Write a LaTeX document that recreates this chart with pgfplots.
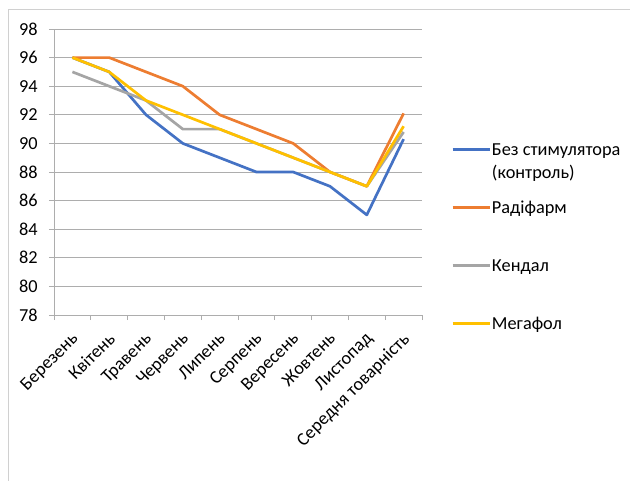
\documentclass[border=0pt]{standalone}
\usepackage{pgfplots}
\pgfplotsset{compat=1.18}
\usepackage{fontspec}
\setmainfont{Carlito}
\definecolor{cblue}{HTML}{4472C4}
\definecolor{corange}{HTML}{ED7D31}
\definecolor{cgray}{HTML}{A5A5A5}
\definecolor{cyellow}{HTML}{FFC000}
\definecolor{gridc}{HTML}{ADADAD}
\definecolor{framec}{HTML}{D0D0D0}
\begin{document}
\fontsize{18.3bp}{22.5bp}\selectfont
\begin{tikzpicture}
\useasboundingbox (-54bp,-166bp) rectangle (576bp,315bp);
\draw[framec, line width=1bp] (-45bp,-200bp) -- (-45bp,305bp) -- (640bp,305bp);
\begin{axis}[
  at={(0,0)}, anchor=south west,
  scale only axis, width=368bp, height=286bp,
  xmin=-0.5, xmax=9.5, ymin=78, ymax=98,
  ytick={78,80,...,98},
  xtick={0,...,9},
  xticklabels={Березень,Квітень,Травень,Червень,Липень,Серпень,Вересень,Жовтень,Листопад,Середня товарність},
  minor xtick={-0.5,0.5,...,9.5},
  axis x line*=bottom, axis y line*=left,
  axis line style={gridc, line width=0.9bp},
  ymajorgrids, grid style={gridc, line width=0.9bp},
  tick align=outside, major tick length=5bp, minor tick length=5bp,
  every tick/.style={gridc, line width=0.9bp},
  major x tick style={draw=none},
  /pgf/number format/assume math mode=true,
  yticklabel style={xshift=-5bp},
  xticklabel style={yshift=-11bp, xshift=-2bp, rotate=45, anchor=north east, inner sep=0pt},
  legend cell align=left,
  legend style={at={(axis description cs:1.079,0.616)}, anchor=north west,
    draw=none, fill=none, inner sep=0pt, row sep=37.5bp, column sep=0bp,
    nodes={inner sep=1bp}},
  legend image code/.code={\draw[#1] (0bp,0bp) -- (37bp,0bp);},
  every axis plot/.append style={line width=2.7bp, line join=round},
]
\addplot[cblue] coordinates {(0,96) (1,95) (2,92) (3,90) (4,89) (5,88) (6,88) (7,87) (8,85) (9,90.3)};
\addplot[corange] coordinates {(0,96) (1,96) (2,95) (3,94) (4,92) (5,91) (6,90) (7,88) (8,87) (9,92.1)};
\addplot[cgray] coordinates {(0,95) (1,94) (2,93) (3,91) (4,91) (5,90) (6,89) (7,88) (8,87) (9,90.8)};
\addplot[cyellow] coordinates {(0,96) (1,95) (2,93) (3,92) (4,91) (5,90) (6,89) (7,88) (8,87) (9,91.2)};
\legend{\strut\smash{\begin{tabular}[t]{@{}l@{}}Без стимулятора\\(контроль)\end{tabular}},\strut Радіфарм,\strut Кендал,\strut Мегафол}
\end{axis}
\end{tikzpicture}
\end{document}
